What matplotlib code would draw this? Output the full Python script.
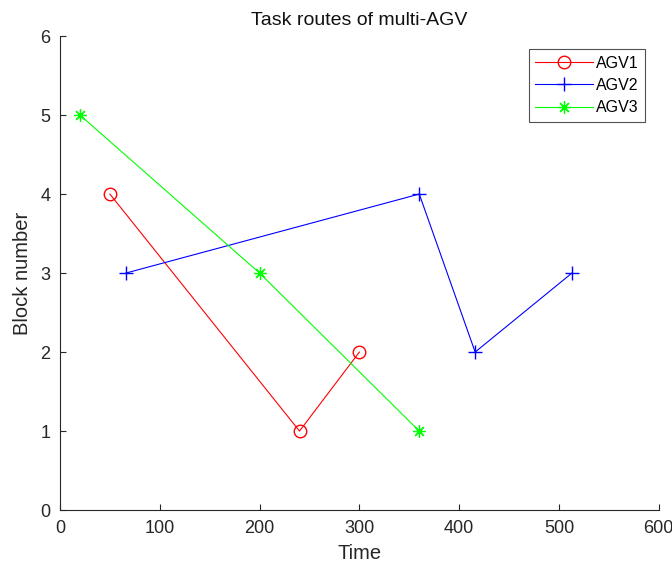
import matplotlib
matplotlib.use("Agg")
import matplotlib.pyplot as plt

plt.rcParams['font.family'] = ['Liberation Sans', 'DejaVu Sans']

# route data
agv1_time = [50, 240, 300]
agv1_block = [4, 1, 2]
agv2_time = [66, 360, 416, 513]
agv2_block = [3, 4, 2, 3]
agv3_time = [20, 200, 360]
agv3_block = [5, 3, 1]

fig = plt.figure(figsize=(6.72, 5.68), dpi=100)
ax = fig.add_axes([0.0893, 0.102, 0.891, 0.8345])

ax.plot(agv1_time, agv1_block, color='#ff0000', marker='o', markersize=9,
        markerfacecolor='none', linewidth=0.8, label='AGV1')
ax.plot(agv2_time, agv2_block, color='#0000ff', marker='+', markersize=10,
        linewidth=0.8, label='AGV2')
# matlab-style asterisk: 8 arms
ax.plot(agv3_time, agv3_block, color='#00ff00', marker=(8, 2, 0), markersize=9,
        markeredgewidth=0.9, linewidth=0.8, label='AGV3')

ax.set_xlim(0, 600)
ax.set_ylim(0, 6)
ax.set_xticks(range(0, 601, 100))
ax.set_yticks(range(0, 7))

ax.spines['top'].set_visible(False)
ax.spines['right'].set_visible(False)
for s in ('left', 'bottom'):
    ax.spines[s].set_color('#262626')
    ax.spines[s].set_linewidth(0.8)
ax.tick_params(direction='in', length=4, colors='#262626', labelsize=13,
               labelcolor='#262626', pad=7)

ax.set_title('Task routes of multi-AGV', fontsize=14, color='#111111', pad=8)
ax.set_xlabel('Time', fontsize=14.5, color='#262626', labelpad=5)
ax.set_ylabel('Block number', fontsize=14.5, color='#262626', labelpad=6)

leg = ax.legend(loc='upper right', bbox_to_anchor=(0.985, 0.982), fancybox=False,
                fontsize=11.5, handlelength=3.6, borderpad=0.4, labelspacing=0.45,
                handletextpad=0.2, borderaxespad=0.3)
leg.get_frame().set_edgecolor('#262626')
leg.get_frame().set_linewidth(0.8)

fig.savefig('out.png', dpi=100)
